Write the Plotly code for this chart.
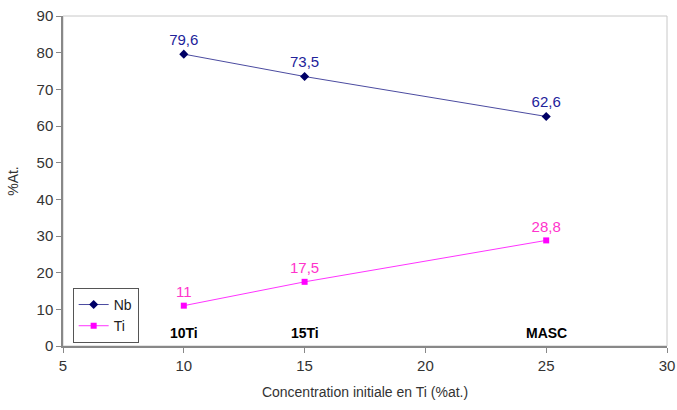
import plotly.graph_objects as go

x_conc = [10, 15, 25]
nb_vals = [79.6, 73.5, 62.6]
ti_vals = [11, 17.5, 28.8]
sample_names = ["10Ti", "15Ti", "MASC"]

def fmt(v):
    s = ("%g" % v).replace(".", ",")
    return s

fig = go.Figure()
fig.add_trace(go.Scatter(
    x=x_conc, y=nb_vals, name="Nb", mode="lines+markers+text",
    text=[fmt(v) for v in nb_vals], textposition="top center",
    textfont=dict(color="#22229a", size=15),
    line=dict(color="#4b4ba0", width=1),
    marker=dict(symbol="diamond", size=7, color="#000066"),
))
fig.add_trace(go.Scatter(
    x=x_conc, y=ti_vals, name="Ti", mode="lines+markers+text",
    text=[fmt(v) for v in ti_vals], textposition="top center",
    textfont=dict(color="#ff33cc", size=15),
    line=dict(color="#ff33ff", width=1),
    marker=dict(symbol="square", size=6, color="#ff00ff"),
))

for xv, name in zip(x_conc, sample_names):
    fig.add_annotation(x=xv, y=3.6, text="<b>%s</b>" % name, showarrow=False,
                       font=dict(size=14, color="black"))

fig.add_shape(type="rect", xref="paper", yref="paper", x0=0, y0=0, x1=1, y1=1,
              line=dict(color="#c8c8c8", width=1), layer="below")

fig.update_layout(
    width=677, height=410,
    margin=dict(l=63, r=10, t=16, b=64, autoexpand=False),
    paper_bgcolor="white", plot_bgcolor="white",
    font=dict(family="Liberation Sans, Arial, sans-serif", size=15, color="#333333"),
    showlegend=True,
    legend=dict(x=0.016, y=0.176, xanchor="left", yanchor="top",
                bgcolor="white", bordercolor="#555555", borderwidth=1,
                font=dict(size=14, color="#222222"), tracegroupgap=0,
                itemwidth=30),
    xaxis=dict(range=[5, 30], tickvals=[5, 10, 15, 20, 25, 30], showgrid=False,
               zeroline=False, showline=True, linecolor="#888888", linewidth=1.5,
               ticks="outside", ticklen=5, tickcolor="#888888", automargin=False,
               tickfont=dict(size=15), ticklabeloverflow="allow",
               title=dict(text="Concentration initiale en Ti (%at.)", font=dict(size=14), standoff=14)),
    yaxis=dict(range=[0, 90], tickvals=list(range(0, 91, 10)), showgrid=False,
               zeroline=False, showline=True, linecolor="#888888", linewidth=1.5,
               ticks="outside", ticklen=5, tickcolor="#888888", automargin=False,
               tickfont=dict(size=15), ticklabeloverflow="allow",
               title=dict(text="%At.", font=dict(size=14))),
)

fig.write_html("out.html", config={"displayModeBar": False},
               post_script="document.body.style.margin='0px';")
